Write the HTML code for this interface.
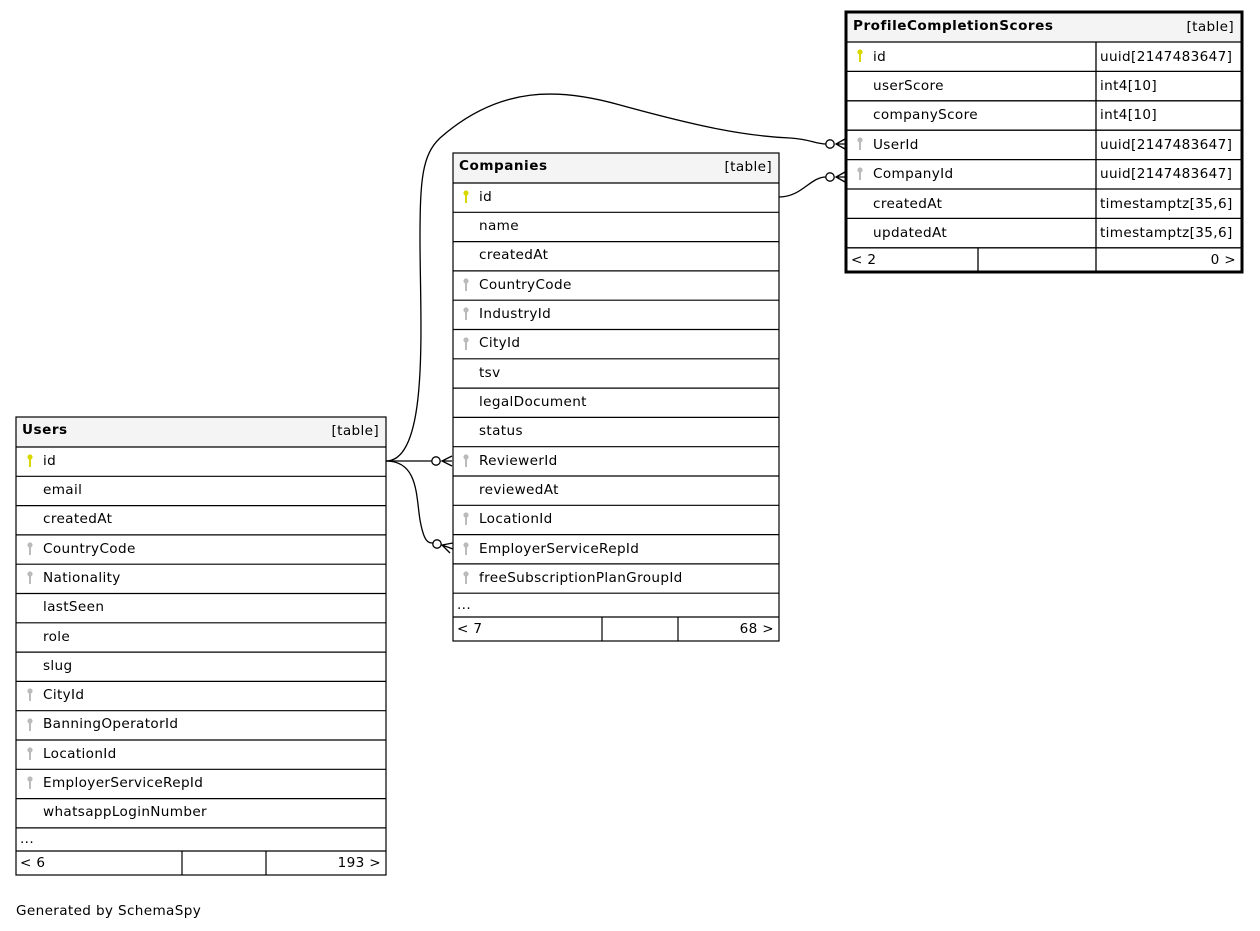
<!DOCTYPE html>
<html><head><meta charset="utf-8"><style>
html,body{margin:0;padding:0;background:#fff;width:1260px;height:931px;overflow:hidden}
svg{display:block}
text{font-family:"DejaVu Sans","Liberation Sans",sans-serif;font-size:13.6px;letter-spacing:0.35px;fill:#000}
.h{font-weight:bold;letter-spacing:0.5px}
</style></head><body>
<svg width="1260" height="931" viewBox="0 0 1260 931" xmlns="http://www.w3.org/2000/svg">
<defs>
<g id="pk"><circle cx="0" cy="3" r="2.6" fill="#d8d800"/><rect x="-1" y="3" width="2" height="10" fill="#d8d800"/></g>
<g id="fk"><circle cx="0" cy="3" r="2.6" fill="#bbb"/><rect x="-1" y="3" width="2" height="10" fill="#bbb"/></g>
</defs>

<g fill="none" stroke="#000" stroke-width="1.3">
<path d="M386,461 C430,461 420,320 420,240 C420,180 422,155 440,138 C500,85 560,88 620,105 C700,127 745,136 790,138 C810,139 815,144 826,144"/>
<path d="M386,461 L432,461"/>
<path d="M386,461 C418,461 416,495 420,520 C424,542 428,543 433,543"/>
<path d="M779,197 C802,197 810,177 826,177"/>
<circle cx="830" cy="144" r="4.2" fill="#fff"/>
<circle cx="830" cy="177" r="4.2" fill="#fff"/>
<circle cx="436" cy="461" r="4.2" fill="#fff"/>
<circle cx="437" cy="544" r="4.2" fill="#fff"/>
<path d="M845,139 L836,144 L845,149 M836,144 L845,144"/>
<path d="M845,172 L836,177 L845,182 M836,177 L845,177"/>
<path d="M452,456 L442,461 L452,466 M442,461 L452,461"/>
<path d="M453,543 L442,545 L450,553 M442,545 L453,549"/>
</g>

<g>
<rect x="846" y="12" width="396" height="260" fill="#fff"/>
<rect x="846" y="12" width="396" height="30" fill="#f4f4f4"/>
<g stroke="#000" stroke-width="1.3">
<line x1="846" y1="42" x2="1242" y2="42"/>
<line x1="846" y1="71.4" x2="1242" y2="71.4"/>
<line x1="846" y1="100.8" x2="1242" y2="100.8"/>
<line x1="846" y1="130.2" x2="1242" y2="130.2"/>
<line x1="846" y1="159.6" x2="1242" y2="159.6"/>
<line x1="846" y1="189" x2="1242" y2="189"/>
<line x1="846" y1="218.4" x2="1242" y2="218.4"/>
<line x1="846" y1="247.8" x2="1242" y2="247.8"/>
<line x1="1096" y1="42" x2="1096" y2="272"/>
<line x1="978" y1="247.8" x2="978" y2="272"/>
</g>
<rect x="846" y="12" width="396" height="260" fill="none" stroke="#000" stroke-width="3"/>
<text class="h" x="853" y="30">ProfileCompletionScores</text>
<text x="1234" y="31" text-anchor="end">[table]</text>
<use href="#pk" x="860" y="49"/>
<use href="#fk" x="860" y="137"/>
<use href="#fk" x="860" y="167"/>
<text x="873" y="61">id</text><text x="1100" y="61">uuid[2147483647]</text>
<text x="873" y="90">userScore</text><text x="1100" y="90">int4[10]</text>
<text x="873" y="119">companyScore</text><text x="1100" y="119">int4[10]</text>
<text x="873" y="149">UserId</text><text x="1100" y="149">uuid[2147483647]</text>
<text x="873" y="178">CompanyId</text><text x="1100" y="178">uuid[2147483647]</text>
<text x="873" y="208">createdAt</text><text x="1100" y="208">timestamptz[35,6]</text>
<text x="873" y="237">updatedAt</text><text x="1100" y="237">timestamptz[35,6]</text>
<text x="851" y="264">&lt; 2</text><text x="1236" y="264" text-anchor="end">0 &gt;</text>
</g>

<g>
<rect x="453" y="153" width="326" height="488" fill="#fff"/>
<rect x="453" y="153" width="326" height="30" fill="#f4f4f4"/>
<g stroke="#000" stroke-width="1.2">
<line x1="453" y1="183" x2="779" y2="183"/>
<line x1="453" y1="212.3" x2="779" y2="212.3"/>
<line x1="453" y1="241.6" x2="779" y2="241.6"/>
<line x1="453" y1="270.9" x2="779" y2="270.9"/>
<line x1="453" y1="300.2" x2="779" y2="300.2"/>
<line x1="453" y1="329.5" x2="779" y2="329.5"/>
<line x1="453" y1="358.8" x2="779" y2="358.8"/>
<line x1="453" y1="388.1" x2="779" y2="388.1"/>
<line x1="453" y1="417.4" x2="779" y2="417.4"/>
<line x1="453" y1="446.7" x2="779" y2="446.7"/>
<line x1="453" y1="476" x2="779" y2="476"/>
<line x1="453" y1="505.3" x2="779" y2="505.3"/>
<line x1="453" y1="534.6" x2="779" y2="534.6"/>
<line x1="453" y1="563.9" x2="779" y2="563.9"/>
<line x1="453" y1="593.2" x2="779" y2="593.2"/>
<line x1="453" y1="617" x2="779" y2="617"/>
<line x1="602" y1="617" x2="602" y2="641"/>
<line x1="678" y1="617" x2="678" y2="641"/>
</g>
<rect x="453" y="153" width="326" height="488" fill="none" stroke="#000" stroke-width="1.2"/>
<text class="h" x="459" y="170">Companies</text>
<text x="772" y="171" text-anchor="end">[table]</text>
<use href="#pk" x="466" y="190"/>
<use href="#fk" x="466" y="278"/>
<use href="#fk" x="466" y="307"/>
<use href="#fk" x="466" y="337"/>
<use href="#fk" x="466" y="454"/>
<use href="#fk" x="466" y="512"/>
<use href="#fk" x="466" y="542"/>
<use href="#fk" x="466" y="571"/>
<text x="479" y="201">id</text>
<text x="479" y="230">name</text>
<text x="479" y="259">createdAt</text>
<text x="479" y="289">CountryCode</text>
<text x="479" y="318">IndustryId</text>
<text x="479" y="347">CityId</text>
<text x="479" y="377">tsv</text>
<text x="479" y="406">legalDocument</text>
<text x="479" y="435">status</text>
<text x="479" y="465">ReviewerId</text>
<text x="479" y="494">reviewedAt</text>
<text x="479" y="523">LocationId</text>
<text x="479" y="553">EmployerServiceRepId</text>
<text x="479" y="582">freeSubscriptionPlanGroupId</text>
<text x="457" y="609">...</text>
<text x="457" y="633">&lt; 7</text>
<text x="774" y="633" text-anchor="end">68 &gt;</text>
</g>

<g>
<rect x="16" y="417" width="370" height="458" fill="#fff"/>
<rect x="16" y="417" width="370" height="30" fill="#f4f4f4"/>
<g stroke="#000" stroke-width="1.2">
<line x1="16" y1="447" x2="386" y2="447"/>
<line x1="16" y1="476.3" x2="386" y2="476.3"/>
<line x1="16" y1="505.6" x2="386" y2="505.6"/>
<line x1="16" y1="534.9" x2="386" y2="534.9"/>
<line x1="16" y1="564.2" x2="386" y2="564.2"/>
<line x1="16" y1="593.5" x2="386" y2="593.5"/>
<line x1="16" y1="622.8" x2="386" y2="622.8"/>
<line x1="16" y1="652.1" x2="386" y2="652.1"/>
<line x1="16" y1="681.4" x2="386" y2="681.4"/>
<line x1="16" y1="710.7" x2="386" y2="710.7"/>
<line x1="16" y1="740" x2="386" y2="740"/>
<line x1="16" y1="769.3" x2="386" y2="769.3"/>
<line x1="16" y1="798.6" x2="386" y2="798.6"/>
<line x1="16" y1="827.9" x2="386" y2="827.9"/>
<line x1="16" y1="851" x2="386" y2="851"/>
<line x1="182" y1="851" x2="182" y2="875"/>
<line x1="266" y1="851" x2="266" y2="875"/>
</g>
<rect x="16" y="417" width="370" height="458" fill="none" stroke="#000" stroke-width="1.2"/>
<text class="h" x="22" y="434">Users</text>
<text x="379" y="435" text-anchor="end">[table]</text>
<use href="#pk" x="30" y="454"/>
<use href="#fk" x="30" y="542"/>
<use href="#fk" x="30" y="571"/>
<use href="#fk" x="30" y="688"/>
<use href="#fk" x="30" y="718"/>
<use href="#fk" x="30" y="747"/>
<use href="#fk" x="30" y="776"/>
<text x="43" y="465">id</text>
<text x="43" y="494">email</text>
<text x="43" y="523">createdAt</text>
<text x="43" y="553">CountryCode</text>
<text x="43" y="582">Nationality</text>
<text x="43" y="611">lastSeen</text>
<text x="43" y="641">role</text>
<text x="43" y="670">slug</text>
<text x="43" y="699">CityId</text>
<text x="43" y="728">BanningOperatorId</text>
<text x="43" y="758">LocationId</text>
<text x="43" y="787">EmployerServiceRepId</text>
<text x="43" y="816">whatsappLoginNumber</text>
<text x="20" y="843">...</text>
<text x="20" y="867">&lt; 6</text>
<text x="381" y="867" text-anchor="end">193 &gt;</text>
</g>

<text x="16" y="915">Generated by SchemaSpy</text>
</svg>
</body></html>
